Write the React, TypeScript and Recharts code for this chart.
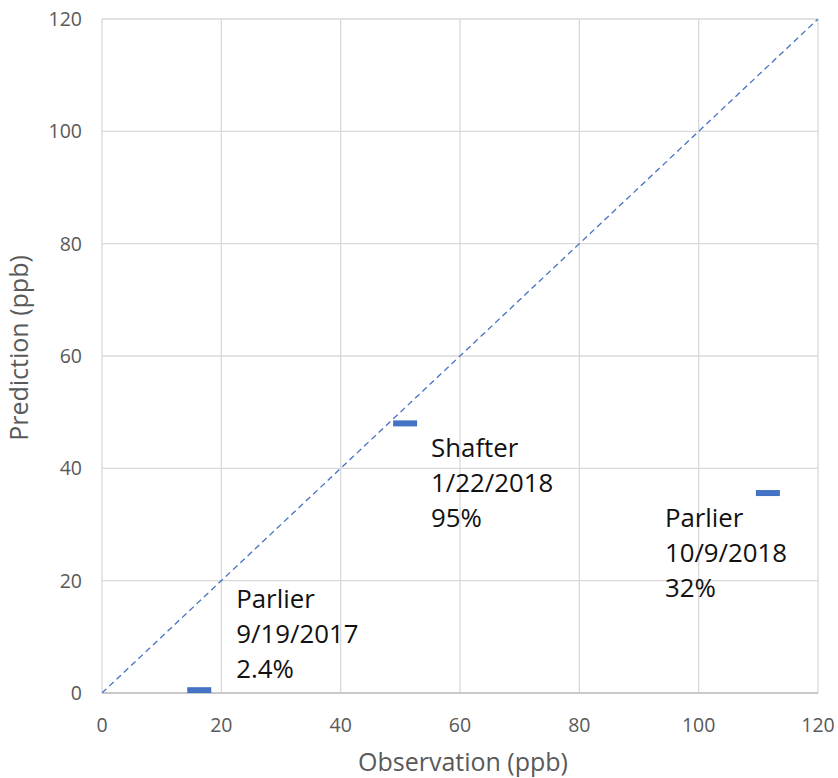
import React from 'react';
import { ScatterChart, Scatter, XAxis, YAxis, CartesianGrid, Label } from 'recharts';

const observation = [16.3, 50.8, 111.6];
const prediction = [0.5, 48.0, 35.6];
const siteNames = ['Parlier', 'Shafter', 'Parlier'];
const sampleDates = ['9/19/2017', '1/22/2018', '10/9/2018'];
const percents = ['2.4%', '95%', '32%'];
const axisTicks = [0, 20, 40, 60, 80, 100, 120];
const diagonalX = [0, 120];
const diagonalY = [0, 120];

const labelOffsets = [
  { dx: 37, dy: -82 },
  { dx: 26, dy: 34 },
  { dx: -103, dy: 34 },
];

const FONT = '"Open Sans", sans-serif';
const BLUE = '#4472C4';

const points = observation.map((x, i) => ({ x, y: prediction[i], i }));
const diagonal = diagonalX.map((x, i) => ({ x, y: diagonalY[i] }));

const MarkerShape = (props: any) => {
  const { cx, cy, payload } = props;
  const i = payload.i;
  const off = labelOffsets[i];
  const tx = cx + off.dx;
  const ty = cy + off.dy;
  const lines = [siteNames[i], sampleDates[i], percents[i]];
  return (
    <g>
      <rect x={cx - 12} y={cy - 3} width={24} height={6} fill={BLUE} />
      <text fontFamily={FONT} fontSize={25.8} fill="#111111">
        {lines.map((l, k) => (
          <tspan key={k} x={tx} y={ty + k * 35}>{l}</tspan>
        ))}
      </text>
    </g>
  );
};

const XTick = (props: any) => {
  const { x, y, payload } = props;
  return (
    <text x={x} y={y + 39} textAnchor="middle" fontFamily={FONT} fontSize={19.5} fill="#595959">
      {payload.value}
    </text>
  );
};

const YTick = (props: any) => {
  const { x, y, payload } = props;
  return (
    <text x={x - 20} y={y + 7} textAnchor="end" fontFamily={FONT} fontSize={19.5} fill="#595959">
      {payload.value}
    </text>
  );
};

const XTitle = (props: any) => {
  const vb = props.viewBox;
  return (
    <text x={vb.x + vb.width / 2 + 3} y={771} textAnchor="middle" fontFamily={FONT} fontSize={25} fill="#595959">
      Observation (ppb)
    </text>
  );
};

const YTitle = () => {
  return (
    <text x={28} y={348} transform="rotate(-90 28 348)" textAnchor="middle" fontFamily={FONT} fontSize={25} fill="#595959">
      Prediction (ppb)
    </text>
  );
};

export default function App() {
  return (
    <div style={{ position: 'absolute', left: 0, top: 0, background: '#fff' }}>
      <ScatterChart width={838} height={778} margin={{ top: 19, right: 20, left: 0, bottom: 0 }}>
        <CartesianGrid stroke="#d9d9d9" strokeWidth={1.3} />
        <XAxis
          type="number"
          dataKey="x"
          domain={[0, 120]}
          ticks={axisTicks}
          interval={0}
          height={85}
          tickSize={0}
          tickMargin={0}
          tickLine={false}
          axisLine={{ stroke: '#bfbfbf', strokeWidth: 1.5 }}
          tick={<XTick />}
          allowDataOverflow
        >
          <Label content={<XTitle />} />
        </XAxis>
        <YAxis
          type="number"
          dataKey="y"
          domain={[0, 120]}
          ticks={axisTicks}
          interval={0}
          width={102}
          tickSize={0}
          tickMargin={0}
          tickLine={false}
          axisLine={false}
          tick={<YTick />}
          allowDataOverflow
        >
          <Label content={<YTitle />} />
        </YAxis>
        <Scatter
          data={diagonal}
          line={{ stroke: BLUE, strokeWidth: 1.3, strokeDasharray: '6 4' }}
          shape={() => <g />}
          isAnimationActive={false}
        />
        <Scatter data={points} shape={<MarkerShape />} isAnimationActive={false} />
      </ScatterChart>
    </div>
  );
}
